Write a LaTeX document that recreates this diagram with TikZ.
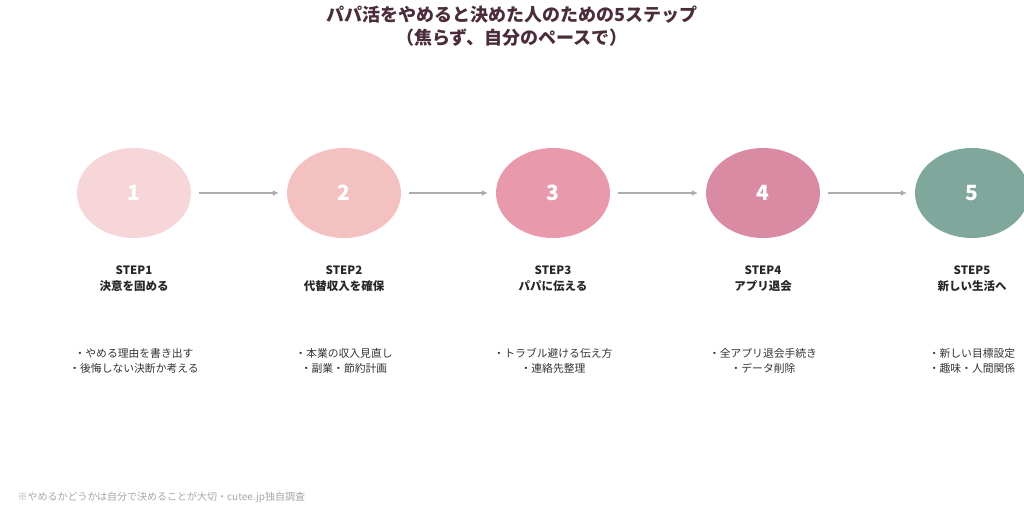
\documentclass[tikz,border=0pt]{standalone}
\usepackage{fontspec}
\setmainfont{Noto Sans CJK JP}
\usetikzlibrary{shapes.geometric,arrows.meta}
\begin{document}
\begin{tikzpicture}[x=1pt,y=-1pt,
  circ/.style={ellipse,minimum width=114pt,minimum height=90pt,inner sep=0pt,text=white,font=\bfseries\fontsize{21}{24}\selectfont},
  arr/.style={draw=gray!65,line width=1.6pt,-{Latex[length=6pt,width=6pt]}},
  steplbl/.style={align=center,text=black!85,font=\bfseries\fontsize{11.5}{16}\selectfont},
  bul/.style={align=center,text=black!80,font=\fontsize{10.8}{15.5}\selectfont}]
\path[use as bounding box] (0,0) rectangle (1024,512);
\clip (0,0) rectangle (1024,512);
\definecolor{c1}{HTML}{F7D6DA}\definecolor{c2}{HTML}{F4C1C1}\definecolor{c3}{HTML}{E89AAC}
\definecolor{c4}{HTML}{D98BA3}\definecolor{c5}{HTML}{7FA79B}\definecolor{tt}{HTML}{4A2C3A}
\node[align=center,text=tt,font=\bfseries\fontsize{18}{23}\selectfont] (title) at (512,26) {パパ活をやめると決めた人のための5ステップ\\（焦らず、自分のペースで）};
\foreach \i/\x/\s/\b in {1/134/決意を固める/{・やめる理由を書き出す\\・後悔しない決断か考える},
  2/344/代替収入を確保/{・本業の収入見直し\\・副業・節約計画},
  3/553/パパに伝える/{・トラブル避ける伝え方\\・連絡先整理},
  4/763/アプリ退会/{・全アプリ退会手続き\\・データ削除},
  5/972/新しい生活へ/{・新しい目標設定\\・趣味・人間関係}}{
  \node[circ,fill=c\i] (n\i) at (\x,193) {\i};
  \node[steplbl] (s\i) at (\x,279) {STEP\i\\\s};
  \node[bul] (b\i) at (\x,361) {\b};
}
\foreach \a/\b in {1/2,2/3,3/4,4/5}{\draw[arr] ([xshift=8pt]n\a.east) -- ([xshift=-8pt]n\b.west);}
\node[anchor=west,text=gray!70,font=\fontsize{10}{12}\selectfont] (foot) at (14,497) {※やめるかどうかは自分で決めることが大切・cutee.jp独自調査};
\end{tikzpicture}
\end{document}
